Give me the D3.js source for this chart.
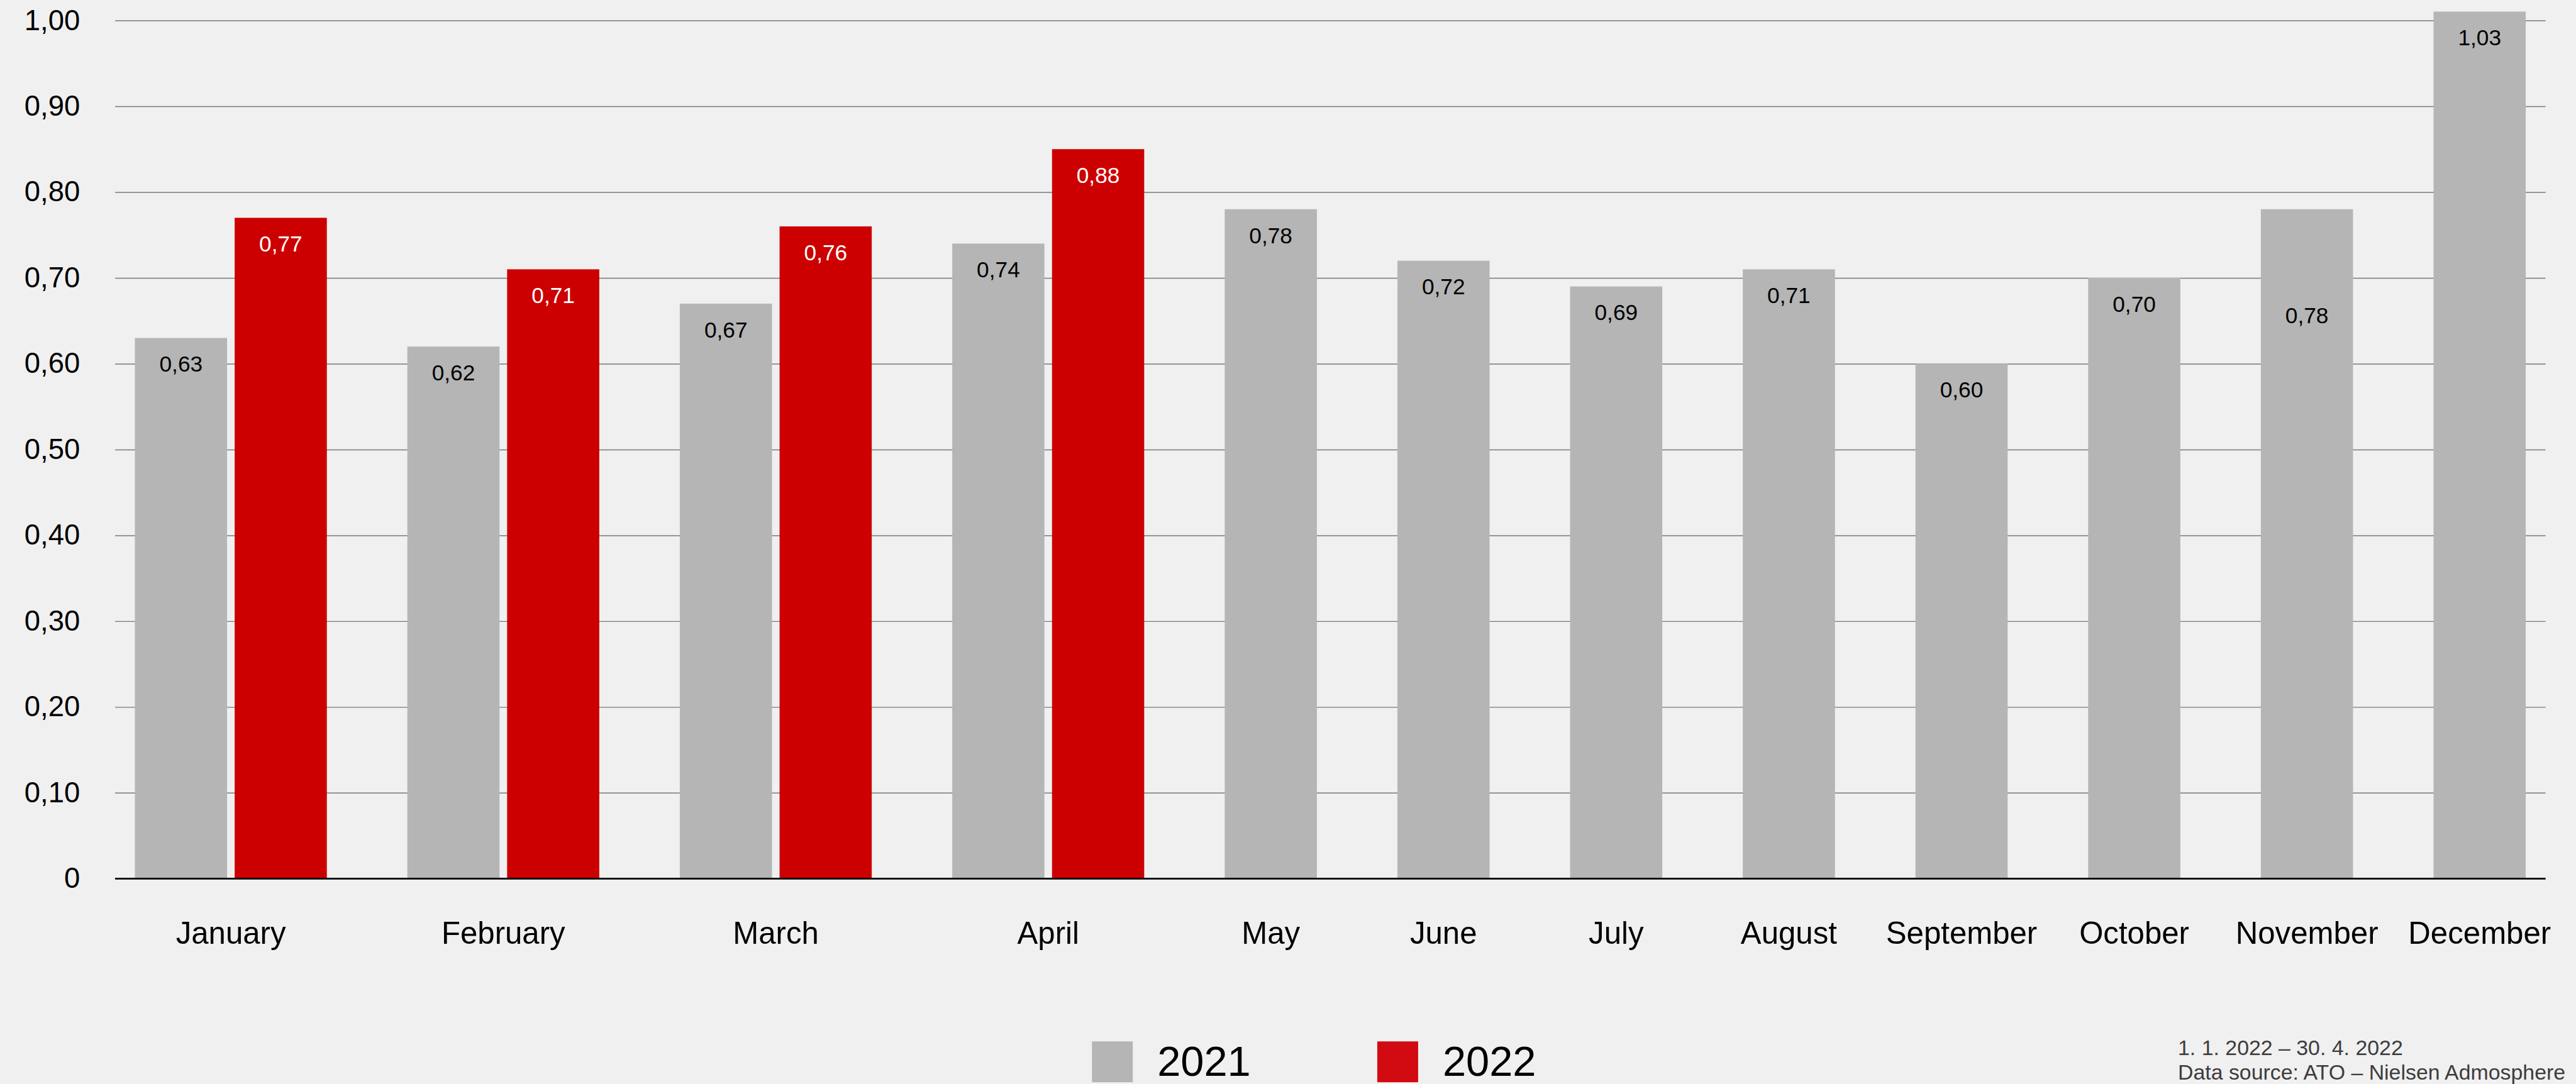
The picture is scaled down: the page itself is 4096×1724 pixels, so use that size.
<!DOCTYPE html>
<html>
<head>
<meta charset="utf-8">
<script src="https://cdn.jsdelivr.net/npm/d3@7"></script>
<style>
  html, body { margin: 0; padding: 0; background: #f0f0f0; overflow: hidden; }
  text { font-family: "Liberation Sans", Arial, sans-serif; }
</style>
</head>
<body>
<svg id="chart"></svg>
<script>
// data
var months = ["January", "February", "March", "April", "May", "June",
              "July", "August", "September", "October", "November", "December"];
// bar heights as drawn in the picture
var values2021 = [0.63, 0.62, 0.67, 0.74, 0.78, 0.72, 0.69, 0.71, 0.60, 0.70, 0.78, 1.03];
var values2022 = [0.77, 0.71, 0.76, 0.85];
// value labels as printed (April 2022 reads 0,88 although its bar stops near 0,85)
var labels2021 = ["0,63", "0,62", "0,67", "0,74", "0,78", "0,72", "0,69", "0,71", "0,60", "0,70", "0,78", "1,03"];
var labels2022 = ["0,77", "0,71", "0,76", "0,88"];
var seriesNames = ["2021", "2022"];
var yTicks = [0, 0.1, 0.2, 0.3, 0.4, 0.5, 0.6, 0.7, 0.8, 0.9, 1.0];
var footerLines = ["1. 1. 2022 \u2013 30. 4. 2022", "Data source: ATO \u2013 Nielsen Admosphere"];

var colors = { "2021": "#b5b5b5", "2022": "#cc0000" };
var legendColors = { "2021": "#b5b5b5", "2022": "#d20a11" };

// everything is laid out in the reference's 4414x1858 space and scaled by the viewBox
var W = 4414, H = 1858;
var svg = d3.select("#chart")
  .attr("width", 4096)
  .attr("height", 1724)
  .attr("viewBox", "0 0 " + W + " " + H);

svg.append("rect").attr("width", W).attr("height", H).attr("fill", "#f0f0f0");

var plot = { left: 197, right: 4362, top: 20, bottom: 1506 };

// y scale: 1.00 sits a little below the plot top, taller bars get clipped
var y = d3.scaleLinear().domain([0, 1]).range([plot.bottom, 35]);

// x: groups have one or two bars, so build positions in "bar units"
var barU = 1, innerGapU = 13 / 158, outerGapU = 138 / 158, edgeU = 34 / 158;
var groups = [];
var cursor = edgeU;
months.forEach(function(m, i) {
  var bars = [{ series: "2021", value: values2021[i], label: labels2021[i] }];
  if (i < values2022.length) bars.push({ series: "2022", value: values2022[i], label: labels2022[i] });
  var start = cursor;
  bars.forEach(function(b, j) {
    b.u0 = cursor;
    b.month = m;
    cursor += barU;
    if (j < bars.length - 1) cursor += innerGapU;
  });
  groups.push({ month: m, bars: bars, u0: start, u1: cursor });
  cursor += (i < months.length - 1) ? outerGapU : edgeU;
});
var x = d3.scaleLinear().domain([0, cursor]).range([plot.left, plot.right]);

var fmt = function(v) { return v === 0 ? "0" : d3.format(".2f")(v).replace(".", ","); };

// gridlines + y tick labels
var yAxis = svg.append("g")
  .attr("transform", "translate(" + plot.left + ",0)")
  .call(d3.axisLeft(y).tickValues(yTicks).tickFormat(fmt)
        .tickSize(-(plot.right - plot.left)).tickPadding(60));
yAxis.select(".domain").remove();
yAxis.selectAll(".tick line").attr("stroke", "#777").attr("stroke-width", 1.6);
yAxis.selectAll(".tick text")
  .attr("font-size", 49)
  .attr("fill", "#000")
  .attr("font-family", "Liberation Sans, Arial, sans-serif");

// clip so December's bar stops at the plot top
svg.append("clipPath").attr("id", "plotclip")
  .append("rect")
  .attr("x", plot.left).attr("y", plot.top)
  .attr("width", plot.right - plot.left).attr("height", plot.bottom - plot.top);

var allBars = [];
groups.forEach(function(g) { g.bars.forEach(function(b) { allBars.push(b); }); });

var barG = svg.append("g").attr("clip-path", "url(#plotclip)");
barG.selectAll("rect.bar")
  .data(allBars)
  .enter().append("rect")
  .attr("class", "bar")
  .attr("x", function(d) { return x(d.u0); })
  .attr("width", function(d) { return x(d.u0 + barU) - x(d.u0); })
  .attr("y", function(d) { return y(d.value); })
  .attr("height", function(d) { return plot.bottom - y(d.value); })
  .attr("fill", function(d) { return colors[d.series]; });

// value labels inside the bars (November's sits lower in the original)
svg.selectAll("text.val")
  .data(allBars)
  .enter().append("text")
  .attr("class", "val")
  .attr("x", function(d) { return x(d.u0 + barU / 2); })
  .attr("y", function(d) {
    var top = Math.max(y(d.value), plot.top);
    return top + (d.month === "November" ? 195 : 58);
  })
  .attr("text-anchor", "middle")
  .attr("font-size", 38)
  .attr("fill", function(d) { return d.series === "2022" ? "#fff" : "#000"; })
  .text(function(d) { return d.label; });

// zero line
svg.append("line")
  .attr("x1", plot.left).attr("x2", plot.right)
  .attr("y1", y(0)).attr("y2", y(0))
  .attr("stroke", "#000").attr("stroke-width", 3);

// month labels
svg.selectAll("text.month")
  .data(groups)
  .enter().append("text")
  .attr("class", "month")
  .attr("x", function(d) { return x((d.u0 + d.u1) / 2); })
  .attr("y", 1618)
  .attr("text-anchor", "middle")
  .attr("font-size", 53)
  .attr("fill", "#000")
  .text(function(d) { return d.month; });

// legend
var legendX = [1871, 2360];
var legend = svg.selectAll("g.legend")
  .data(seriesNames)
  .enter().append("g")
  .attr("class", "legend")
  .attr("transform", function(d, i) { return "translate(" + legendX[i] + ",1785)"; });
legend.append("rect")
  .attr("width", 70).attr("height", 70)
  .attr("fill", function(d) { return legendColors[d]; });
legend.append("text")
  .attr("x", 112).attr("y", 59)
  .attr("font-size", 72)
  .attr("fill", "#000")
  .text(function(d) { return d; });

// footer note
svg.selectAll("text.foot")
  .data(footerLines)
  .enter().append("text")
  .attr("class", "foot")
  .attr("x", 3732)
  .attr("y", function(d, i) { return 1808 + i * 42; })
  .attr("font-size", 36.5)
  .attr("fill", "#3c3c3c")
  .text(function(d) { return d; });
</script>
</body>
</html>
